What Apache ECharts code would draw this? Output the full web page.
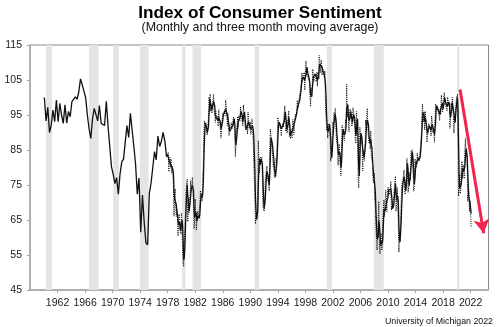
<!DOCTYPE html>
<html>
<head>
<meta charset="utf-8">
<script src="https://cdn.jsdelivr.net/npm/echarts@6/dist/echarts.min.js"></script>
<style>html,body{margin:0;padding:0;background:#fff}#c{width:499px;height:327px}</style>
</head>
<body>
<div id="c"></div>
<script>
// ---- DATA ----
// Quarterly survey values 1960-1977 (Feb, May, Aug, Nov)
const quarterlyStartYear = 1960;
const quarterlyMonths = [1, 4, 7, 10];
const quarterly1960_1977 = [
  100.0, 93.3, 97.2, 90.0,
  92.1, 96.4, 93.1, 99.3,
  93.1, 98.3, 95.0, 92.6,
  97.9, 92.7, 96.0, 94.5,
  98.8, 98.5, 100.2, 99.5,
  101.5, 105.3, 103.6, 103.2,
  100.0, 95.0, 91.0, 88.3,
  94.0, 96.9, 97.0, 93.3,
  97.7, 92.6, 92.9, 92.0,
  98.9, 92.0, 86.0, 80.2,
  78.1, 75.4, 77.1, 72.4,
  78.2, 81.6, 82.4, 82.2,
  92.0, 88.6, 95.5, 90.8,
  86.0, 81.0, 72.4, 77.0,
  61.5, 72.1, 64.5, 58.5,
  57.9, 72.6, 75.5, 75.5,
  84.5, 82.2, 89.0, 86.0,
  87.5, 90.0, 87.6, 83.1
];
// Monthly values from January 1978
const monthlyStartYear = 1978;
const monthly1978_1989 = [
  83.7, 84.3, 78.8, 81.6, 82.9, 80.0, 82.4, 78.4, 80.4, 79.3, 75.0, 66.1,
  72.1, 73.9, 68.4, 66.0, 68.1, 65.8, 60.4, 64.5, 66.7, 62.1, 63.3, 61.0,
  67.0, 66.9, 56.5, 52.7, 51.7, 58.7, 62.3, 67.3, 73.7, 75.0, 76.7, 64.5,
  71.4, 66.9, 66.5, 72.4, 76.3, 73.1, 74.1, 77.2, 73.1, 70.3, 62.5, 64.3,
  71.0, 66.5, 62.0, 65.5, 67.5, 65.7, 65.4, 65.4, 69.3, 73.4, 72.1, 71.9,
  70.4, 74.6, 80.8, 89.1, 93.3, 92.2, 92.8, 90.9, 89.9, 89.3, 91.1, 94.2,
  100.1, 97.4, 101.0, 96.1, 98.1, 95.5, 96.6, 99.1, 100.9, 96.3, 95.7, 92.9,
  96.0, 93.7, 93.7, 94.6, 91.8, 96.5, 94.0, 92.4, 92.1, 88.4, 90.9, 93.9,
  95.6, 95.9, 95.1, 96.2, 94.8, 99.3, 97.7, 94.9, 91.9, 95.6, 91.4, 89.1,
  90.4, 90.2, 90.8, 92.8, 91.1, 91.5, 93.7, 94.4, 93.6, 89.3, 83.1, 86.8,
  90.8, 91.6, 94.6, 91.2, 94.8, 94.7, 93.4, 97.4, 97.3, 94.1, 93.0, 91.9,
  97.9, 95.4, 94.3, 91.5, 90.7, 90.6, 92.0, 89.6, 95.8, 93.9, 90.9, 90.5
];
const monthly1990_1999 = [
  93.0, 89.5, 91.3, 93.9, 90.6, 88.3, 88.2, 76.4, 72.8, 63.9, 66.0, 65.5,
  66.8, 70.4, 87.7, 81.8, 78.3, 82.1, 82.9, 82.0, 83.0, 78.3, 69.1, 68.2,
  67.5, 68.8, 76.0, 77.2, 79.2, 80.4, 76.6, 76.1, 75.6, 73.3, 85.3, 91.0,
  89.3, 86.6, 85.9, 85.6, 80.3, 81.5, 77.0, 77.3, 77.9, 82.7, 81.2, 88.2,
  94.3, 93.2, 91.5, 92.6, 92.8, 91.2, 89.0, 91.7, 91.5, 92.7, 91.6, 95.1,
  97.6, 95.1, 90.3, 92.5, 89.8, 92.7, 94.4, 96.2, 88.9, 90.2, 88.2, 91.0,
  89.3, 88.5, 93.7, 92.7, 89.4, 92.4, 94.7, 95.3, 94.7, 96.5, 99.2, 96.9,
  97.4, 99.7, 100.0, 101.4, 103.2, 104.5, 107.1, 104.4, 106.0, 105.6, 107.2, 102.1,
  106.6, 110.4, 106.5, 108.7, 106.5, 105.6, 105.2, 104.4, 100.9, 97.4, 102.7, 100.5,
  103.9, 108.1, 105.7, 104.6, 106.8, 107.3, 106.0, 104.5, 107.2, 103.2, 107.2, 105.4
];
const monthly2000_2009 = [
  112.0, 111.3, 107.1, 109.2, 110.7, 106.4, 108.3, 107.3, 106.8, 105.8, 107.6, 98.4,
  94.7, 90.6, 91.5, 88.4, 92.0, 92.6, 92.4, 91.5, 81.8, 82.7, 83.9, 88.8,
  93.0, 90.7, 95.7, 93.0, 96.9, 92.4, 88.1, 87.6, 86.1, 80.6, 84.2, 86.7,
  82.4, 79.9, 77.6, 86.0, 92.1, 89.7, 90.9, 89.3, 87.7, 89.6, 93.7, 92.6,
  103.8, 94.4, 95.8, 94.2, 90.2, 95.6, 96.7, 95.9, 94.2, 91.7, 92.8, 97.1,
  95.5, 94.1, 92.6, 87.7, 86.9, 96.0, 96.5, 89.1, 76.9, 74.2, 81.6, 91.5,
  91.2, 86.7, 88.9, 87.4, 79.1, 84.9, 84.7, 82.0, 85.4, 93.6, 92.1, 91.7,
  96.9, 91.3, 88.4, 87.1, 88.3, 85.3, 90.4, 83.4, 83.4, 80.9, 76.1, 75.5,
  78.4, 70.8, 69.5, 62.6, 59.8, 56.4, 61.2, 63.0, 70.3, 57.6, 55.3, 60.1,
  61.2, 56.3, 57.3, 65.1, 68.7, 70.8, 66.0, 65.7, 73.5, 70.6, 67.4, 72.5
];
const monthly2010_2022 = [
  74.4, 73.6, 73.6, 72.2, 73.6, 76.0, 67.8, 68.9, 68.2, 67.7, 71.6, 74.5,
  74.2, 77.5, 67.5, 69.8, 74.3, 71.5, 63.7, 55.8, 59.5, 60.8, 63.7, 69.9,
  75.0, 75.3, 76.2, 76.4, 79.3, 73.2, 72.3, 74.3, 78.3, 82.6, 82.7, 72.9,
  73.8, 77.6, 78.6, 76.4, 84.5, 84.1, 85.1, 82.1, 77.5, 73.2, 75.1, 82.5,
  81.2, 81.6, 80.0, 84.1, 81.9, 82.5, 81.8, 82.5, 84.6, 86.9, 88.8, 93.6,
  98.1, 95.4, 93.0, 95.9, 90.7, 96.1, 93.1, 91.9, 87.2, 90.0, 91.3, 92.6,
  92.0, 91.7, 91.0, 89.0, 94.7, 93.5, 90.0, 89.8, 91.2, 87.2, 93.8, 98.2,
  98.5, 96.3, 96.9, 97.0, 97.1, 95.1, 93.4, 96.8, 95.1, 100.7, 98.5, 95.9,
  95.7, 99.7, 101.4, 98.8, 98.0, 98.2, 97.9, 96.2, 100.1, 98.6, 97.5, 98.3,
  91.2, 93.8, 98.4, 97.2, 100.0, 98.2, 98.4, 89.8, 93.2, 95.5, 96.8, 99.3,
  99.8, 101.0, 89.1, 71.8, 72.3, 78.1, 72.5, 74.1, 80.4, 81.8, 76.9, 80.7,
  79.0, 76.8, 84.9, 88.3, 82.9, 85.5, 81.2, 70.3, 72.8, 71.7, 67.4, 70.6,
  67.2, 62.8
];
// Recession periods (decimal years)
const recessions = [
  [1960.32, 1961.19], [1966.56, 1967.97], [1970.08, 1970.91], [1973.96, 1975.22],
  [1980.09, 1980.58], [1981.60, 1982.85], [1990.64, 1991.26], [2001.12, 2001.85],
  [2007.94, 2009.39], [2020.04, 2020.37]
];
// Arrow annotation (start, end) in [year, index]
const arrowStart = [2020.47, 102.3];
const arrowEnd = [2023.9, 61.2];
const xTickLabels = [1962, 1966, 1970, 1974, 1978, 1982, 1986, 1990, 1994, 1998, 2002, 2006, 2010, 2014, 2018, 2022];
const yTickLabels = [45, 55, 65, 75, 85, 95, 105, 115];

// ---- BUILD SERIES ----
const monthlyValues = [].concat(monthly1978_1989, monthly1990_1999, monthly2000_2009, monthly2010_2022);
const monthlyPts = monthlyValues.map((v, i) => [monthlyStartYear + i / 12, v]);
const quarterlyPts = quarterly1960_1977.map((v, i) => [quarterlyStartYear + Math.floor(i / 4) + quarterlyMonths[i % 4] / 12, v]);
// three-month moving average of the monthly readings
const maPts = monthlyValues.map((v, i) => {
  const w = monthlyValues.slice(Math.max(0, i - 2), i + 1);
  return [monthlyStartYear + i / 12, +(w.reduce((a, b) => a + b, 0) / w.length).toFixed(2)];
});
const solidPts = quarterlyPts.concat(maPts);

const FONT = 'Liberation Sans, Arial, sans-serif';
const chart = echarts.init(document.getElementById('c'), null, {renderer: 'canvas'});
chart.setOption({
  animation: false,
  backgroundColor: '#fff',
  graphic: [
    {type: 'text', x: 260, y: 13.5, style: {text: 'Index of Consumer Sentiment', font: 'bold 17.2px ' + FONT, fill: '#000', align: 'center', verticalAlign: 'middle'}},
    {type: 'text', x: 260, y: 27.5, style: {text: '(Monthly and three month moving average)', font: '12.4px ' + FONT, fill: '#111', align: 'center', verticalAlign: 'middle'}},
    {type: 'text', x: 493, y: 321.5, style: {text: 'University of Michigan 2022', font: '8.8px ' + FONT, fill: '#111', align: 'right', verticalAlign: 'middle'}}
  ],
  grid: {left: 30, right: 10.5, top: 45, bottom: 37, show: true, borderColor: '#8a8a8a', borderWidth: 1, backgroundColor: 'transparent'},
  xAxis: {
    type: 'value', min: 1958, max: 2024.6, interval: 4,
    axisLine: {show: true, lineStyle: {color: '#a8a8a8', width: 1.5}},
    axisTick: {show: true, length: 3, lineStyle: {color: '#a8a8a8'}},
    splitLine: {show: false},
    axisLabel: {
      showMinLabel: false, showMaxLabel: false, margin: 8,
      fontFamily: FONT, fontSize: 10.5, color: '#1a1a1a',
      formatter: v => (xTickLabels.indexOf(Math.round(v)) >= 0 ? String(Math.round(v)) : '')
    }
  },
  yAxis: {
    type: 'value', min: 45, max: 115, interval: 10,
    axisLine: {show: true, lineStyle: {color: '#a8a8a8', width: 1.5}},
    axisTick: {show: true, length: 3, lineStyle: {color: '#a8a8a8'}},
    splitLine: {show: false},
    axisLabel: {
      margin: 8, fontFamily: FONT, fontSize: 10.5, color: '#1a1a1a',
      formatter: v => (yTickLabels.indexOf(Math.round(v)) >= 0 ? String(Math.round(v)) : '')
    }
  },
  series: [
    {
      name: 'Monthly', type: 'line', data: monthlyPts, showSymbol: false, symbol: 'none', z: 2,
      lineStyle: {color: '#000', width: 1, type: [1, 1.2]},
      markArea: {
        silent: true,
        itemStyle: {color: '#e4e4e4'},
        data: recessions.map(r => [{xAxis: r[0]}, {xAxis: r[1]}])
      }
    },
    {
      name: '3-month average', type: 'line', data: solidPts, showSymbol: false, symbol: 'none', z: 3,
      lineStyle: {color: '#111', width: 1.3},
      markLine: {
        silent: true, animation: false,
        symbol: ['none', 'arrow'], symbolSize: [12, 14],
        label: {show: false},
        lineStyle: {color: '#f5234a', width: 3, type: 'solid'},
        data: [[{coord: arrowStart}, {coord: arrowEnd}]]
      }
    }
  ]
});
</script>
</body>
</html>
